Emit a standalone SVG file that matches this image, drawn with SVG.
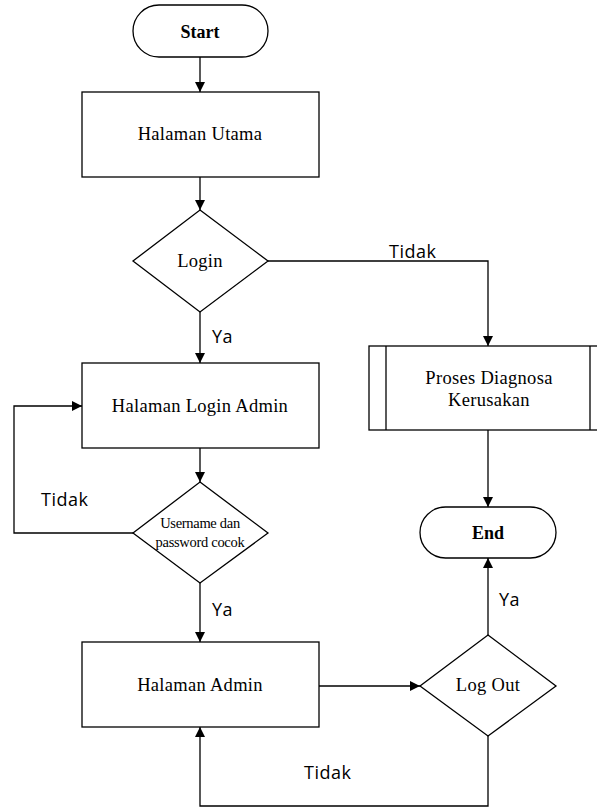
<svg xmlns="http://www.w3.org/2000/svg" width="597" height="807" viewBox="0 0 597 807">
<style>
.shape{fill:#fff;stroke:#000;stroke-width:1.3}
.line{fill:none;stroke:#000;stroke-width:1.3}
.t{font-family:"Liberation Serif",serif;font-size:18.5px;letter-spacing:0.3px;fill:#000;text-anchor:middle}
.b{font-weight:bold;font-size:18px;letter-spacing:0}
.s{font-size:14.5px;letter-spacing:-0.3px}
.lbl{font-family:"Open Sans","DejaVu Sans",sans-serif;font-size:18px;letter-spacing:0.5px;fill:#000}
</style>
<defs>
<marker id="arr" markerWidth="10" markerHeight="10" refX="10" refY="5" orient="auto" markerUnits="userSpaceOnUse">
<path d="M0,0 L10,5 L0,10 Z" fill="#000"/>
</marker>
</defs>
<rect width="597" height="807" fill="#fff"/>
<g id="connectors">
<line class="line" x1="200" y1="57" x2="200" y2="92" marker-end="url(#arr)"/>
<line class="line" x1="200" y1="177" x2="200" y2="210" marker-end="url(#arr)"/>
<polyline class="line" points="268,261 488,261 488,346" marker-end="url(#arr)"/>
<line class="line" x1="200" y1="312" x2="200" y2="363" marker-end="url(#arr)"/>
<line class="line" x1="200" y1="448" x2="200" y2="482" marker-end="url(#arr)"/>
<polyline class="line" points="133,533 14,533 14,406 82,406" marker-end="url(#arr)"/>
<line class="line" x1="200" y1="583" x2="200" y2="642" marker-end="url(#arr)"/>
<line class="line" x1="488" y1="430" x2="488" y2="507" marker-end="url(#arr)"/>
<line class="line" x1="319" y1="686" x2="420" y2="686" marker-end="url(#arr)"/>
<line class="line" x1="488" y1="635" x2="488" y2="558" marker-end="url(#arr)"/>
<polyline class="line" points="488,736 488,806 200,806 200,727" marker-end="url(#arr)"/>
<text class="lbl" x="389" y="258">Tidak</text>
<text class="lbl" x="212" y="343">Ya</text>
<text class="lbl" x="41" y="506">Tidak</text>
<text class="lbl" x="212" y="616">Ya</text>
<text class="lbl" x="499" y="606">Ya</text>
<text class="lbl" x="304" y="779">Tidak</text>
</g>
<g id="start">
<rect class="shape" x="133" y="5" width="135" height="52" rx="26" ry="26"/>
<text class="t b" x="200" y="38">Start</text>
</g>
<g id="halaman-utama">
<rect class="shape" x="82" y="92" width="237" height="85"/>
<text class="t" x="200" y="140">Halaman Utama</text>
</g>
<g id="login">
<polygon class="shape" points="200,210 268,261 200,312 133,261"/>
<text class="t" x="200" y="267">Login</text>
</g>
<g id="halaman-login-admin">
<rect class="shape" x="82" y="363" width="237" height="85"/>
<text class="t" x="200" y="412">Halaman Login Admin</text>
</g>
<g id="username">
<polygon class="shape" points="200,482 268,533 200,583 133,533"/>
<text class="t s" x="200" y="528">Username dan</text>
<text class="t s" x="200" y="547">password cocok</text>
</g>
<g id="halaman-admin">
<rect class="shape" x="82" y="642" width="237" height="85"/>
<text class="t" x="200" y="691">Halaman Admin</text>
</g>
<g id="proses-diagnosa">
<rect class="shape" x="369" y="346" width="240" height="84"/>
<line class="line" x1="386" y1="346" x2="386" y2="430"/>
<line class="line" x1="590" y1="346" x2="590" y2="430"/>
<text class="t" x="489" y="384">Proses Diagnosa</text>
<text class="t" x="489" y="406">Kerusakan</text>
</g>
<g id="end">
<rect class="shape" x="420" y="507" width="136" height="51" rx="25.5" ry="25.5"/>
<text class="t b" x="488" y="539">End</text>
</g>
<g id="logout">
<polygon class="shape" points="488,635 556,686 488,736 420,686"/>
<text class="t" x="488" y="691">Log Out</text>
</g>
</svg>
